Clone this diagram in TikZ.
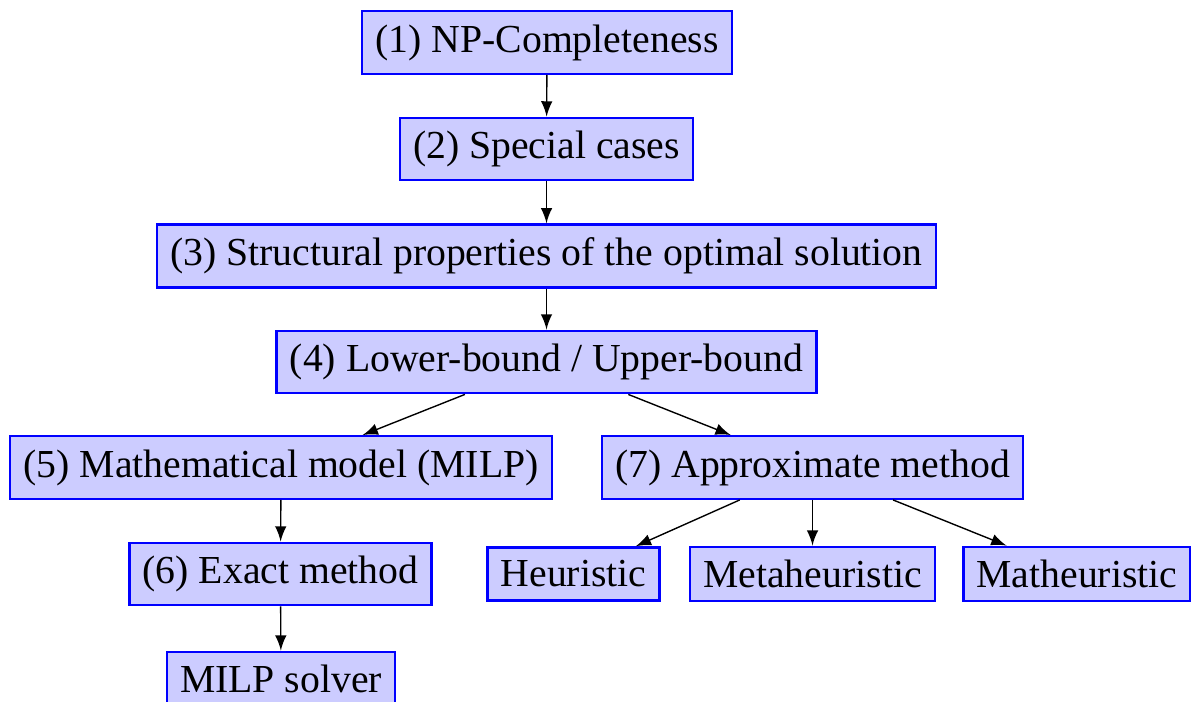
\documentclass[tikz,border=0pt]{standalone}
\usepackage{fontspec}
\setmainfont{Liberation Serif}
\usepackage{tikz}

\begin{document}
\begin{tikzpicture}[x=0.00885cm, y=-0.00885cm, >=latex,
    stage/.style={draw=blue, line width=0.6pt, fill=blue!20, font=\fontsize{10}{12}\selectfont},
    link/.style={->, line width=0.35pt}]
    \useasboundingbox (0,0) rectangle (1191,702);
    % main chain
    \node[stage] (np) at (547,42.5) {(1) NP-Completeness};
    \node[stage] (special) at (546.5,149) {(2) Special cases};
    \node[stage] (struct) at (546.5,256) {(3) Structural properties of the optimal solution};
    \node[stage] (bounds) at (546.5,362) {(4) Lower-bound / Upper-bound};
    % exact branch
    \node[stage] (milp) at (281,467.5) {(5) Mathematical model (MILP)};
    \node[stage] (exact) at (280.5,574) {(6) Exact method};
    \node[stage] (solver) at (281,679) {MILP solver};
    % approximate branch
    \node[stage] (approx) at (812.5,467.5) {(7) Approximate method};
    \node[stage] (heur) at (573.5,574) {Heuristic};
    \node[stage] (meta) at (812.5,574) {Metaheuristic};
    \node[stage] (math) at (1077,574) {Matheuristic};
    \draw[link] (np) -- (special);
    \draw[link] (special) -- (struct);
    \draw[link] (struct) -- (bounds);
    \draw[link] (bounds) -- (milp);
    \draw[link] (bounds) -- (approx);
    \draw[link] (milp) -- (exact);
    \draw[link] (exact) -- (solver);
    \draw[link] (approx) -- (heur);
    \draw[link] (approx) -- (meta);
    \draw[link] (approx) -- (math);
\end{tikzpicture}
\end{document}
